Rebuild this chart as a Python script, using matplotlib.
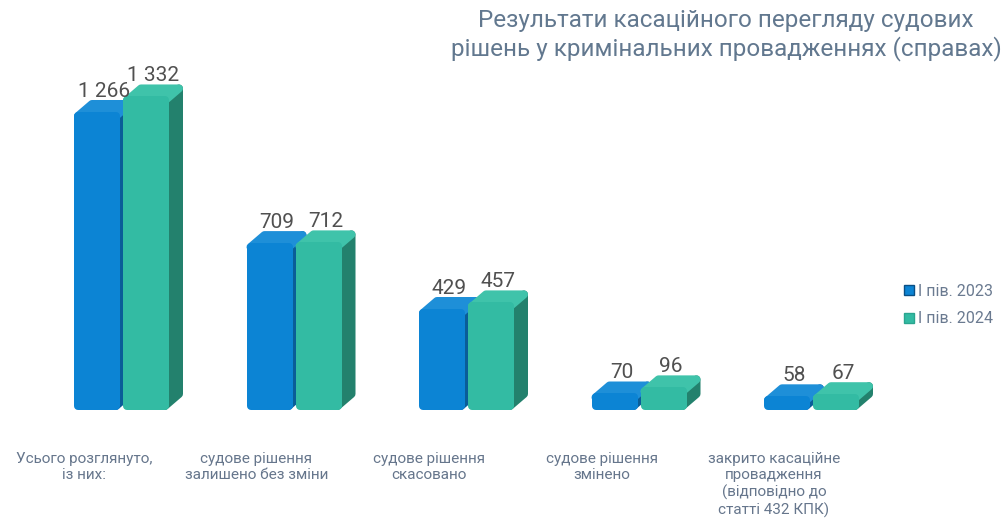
import numpy as np
import matplotlib.pyplot as plt
from matplotlib.patches import Polygon

categories = ['Усього розглянуто,\nіз них:',
              'судове рішення\nзалишено без зміни',
              'судове рішення\nскасовано',
              'судове рішення\nзмінено',
              'закрито касаційне\nпровадження\n(відповідно до\nстатті 432 КПК)']
series_names = ['І пів. 2023', 'І пів. 2024']
values_2023 = [1266, 709, 429, 70, 58]
values_2024 = [1332, 712, 457, 96, 67]
title = 'Результати касаційного перегляду судових\nрішень у кримінальних провадженнях (справах)'

plt.rcParams['font.family'] = ['Roboto', 'DejaVu Sans']

# colours: front, top, side
blue = ('#0c84d4', '#1e8fd8', '#0a5d98')
teal = ('#33bba3', '#3fc3aa', '#23816d')
text_grey = '#505050'
label_col = '#66768c'

R = 4  # corner radius, px
LW = 2 * R * 72 / 100  # stroke width in points


def fmt(v):
    return f'{v:,}'.replace(',', ' ')


def draw_bar(ax, x0, w, h, dx, dy, upp, cols):
    front, top, side = cols
    r, ry = R, R * upp
    # side face
    ax.add_patch(Polygon([(x0 + w - r, ry), (x0 + w + dx - r, dy + ry),
                          (x0 + w + dx - r, h + dy - ry), (x0 + w - r, h - ry)],
                         closed=True, fc=side, ec=side, lw=LW, joinstyle='round', zorder=2))
    # top face
    ax.add_patch(Polygon([(x0 + r, h - ry), (x0 + w - r, h - ry),
                          (x0 + w + dx - r, h + dy - ry), (x0 + dx + r, h + dy - ry)],
                         closed=True, fc=top, ec=top, lw=LW, joinstyle='round', zorder=2))
    # front face
    b = ax.bar(x0 + r, h - 2 * ry, bottom=ry, width=w - 2 * r, align='edge', color=front,
               edgecolor=front, linewidth=LW, joinstyle='round', zorder=3)
    return b


def main():
    fig = plt.figure(figsize=(10.07, 5.29), dpi=100)
    ax = fig.add_axes([0, 0.225, 1, 0.775])
    ax.set_xlim(0, 1007)
    upp = 1266 / 298.0  # value units per pixel
    ax.set_ylim(0, 410 * upp)
    ax.axis('off')

    dx, dy = 14, 12 * upp
    w = 46
    centers = 122 + 172.5 * np.arange(len(categories))

    handles = []
    for i, c in enumerate(centers):
        b1 = draw_bar(ax, c - 48, w, values_2023[i], dx, dy, upp, blue)
        b2 = draw_bar(ax, c + 1, w, values_2024[i], dx, dy, upp, teal)
        if i == 0:
            handles = [b1, b2]
        for x0, v in ((c - 48, values_2023[i]), (c + 1, values_2024[i])):
            ax.text(x0 + w / 2 + 7, v + dy + 3 * upp, fmt(v), ha='center', va='baseline',
                    fontsize=15, color=text_grey, zorder=5)
        ax.text(c - 38, -42 * upp, categories[i], ha='center', va='top', fontsize=11,
                color=label_col, linespacing=1.2, clip_on=False)

    fig.text(726 / 1007, 1 - 9 / 529, title, ha='center', va='top', fontsize=17.5,
             color='#62788f', linespacing=1.2)

    leg = fig.legend(handles, series_names, loc='center left',
                     bbox_to_anchor=(890 / 1007, 1 - 305 / 529), frameon=False,
                     handlelength=0.6, handleheight=0.6, handletextpad=0.25,
                     labelspacing=0.8, labelcolor='#6a7a90', prop={'size': 11.5})
    for hnd, ec in zip(leg.legend_handles, ('#0a4f85', '#2aa58f')):
        hnd.set_edgecolor(ec)
        hnd.set_linewidth(1)

    fig.savefig('out.png', dpi=100)


if __name__ == '__main__':
    main()
